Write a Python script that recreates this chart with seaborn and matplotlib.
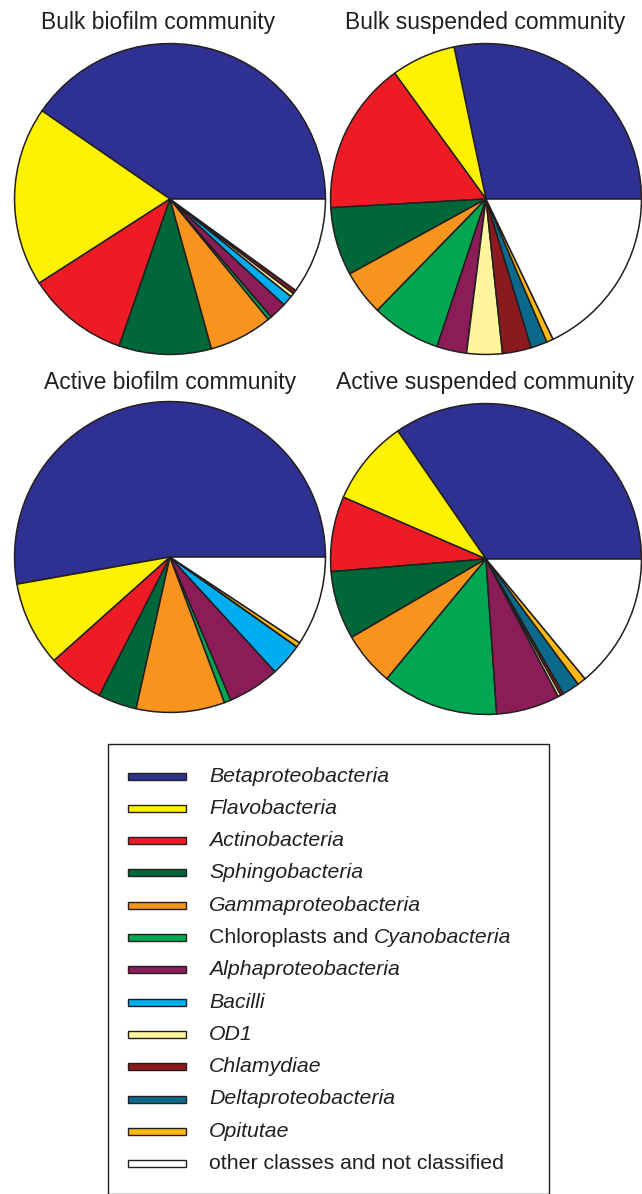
import matplotlib.pyplot as plt
import seaborn as sns
from matplotlib.patches import Rectangle

# === DATA (% of sequences) ===
CLASSES = ['Betaproteobacteria', 'Flavobacteria', 'Actinobacteria', 'Sphingobacteria',
           'Gammaproteobacteria', 'Chloroplasts and Cyanobacteria', 'Alphaproteobacteria',
           'Bacilli', 'OD1', 'Chlamydiae', 'Deltaproteobacteria', 'Opitutae',
           'other classes and not classified']
# (plain part, italic part) for legend text
LEGEND_PARTS = [('', 'Betaproteobacteria'), ('', 'Flavobacteria'), ('', 'Actinobacteria'),
                ('', 'Sphingobacteria'), ('', 'Gammaproteobacteria'),
                ('Chloroplasts and ', 'Cyanobacteria'), ('', 'Alphaproteobacteria'),
                ('', 'Bacilli'), ('', 'OD1'), ('', 'Chlamydiae'), ('', 'Deltaproteobacteria'),
                ('', 'Opitutae'), ('other classes and not classified', '')]
COLORS = ['#2E3192', '#FFF200', '#ED1C24', '#006838', '#F7941D', '#00A651', '#8B1C57',
          '#00AEEF', '#FFF59D', '#8A1A1D', '#0B6A8C', '#FDB913', '#FFFFFF']

bulk_biofilm = [40.4, 18.7, 10.6, 9.6, 6.6, 0.4, 1.8, 1.1, 0.4, 0.4, 0.0, 0.0, 10.0]
bulk_suspended = [28.3, 6.7, 15.9, 7.1, 4.7, 7.2, 3.1, 0.0, 3.7, 3.0, 1.7, 0.7, 17.9]
active_biofilm = [52.8, 8.8, 5.9, 4.0, 9.2, 0.7, 5.4, 3.4, 0.0, 0.0, 0.0, 0.5, 9.3]
active_suspended = [34.6, 8.9, 7.8, 7.1, 5.6, 12.1, 6.6, 0.0, 0.3, 0.3, 1.8, 0.9, 14.0]

TITLES = ['Bulk biofilm community', 'Bulk suspended community',
          'Active biofilm community', 'Active suspended community']
SERIES = [bulk_biofilm, bulk_suspended, active_biofilm, active_suspended]

# === STYLE ===
sns.set_theme(style="white")
plt.rcParams['font.family'] = ['Liberation Sans', 'DejaVu Sans']
palette = sns.color_palette(COLORS)
EDGE = '#231F20'

W, H = 642, 1194
fig = plt.figure(figsize=(W / 100, H / 100), dpi=100)

# pie centres / radius in pixels
centres = [(170, 199), (486, 199), (170, 557), (486, 559)]
R = 157
title_pos = [(158, 22), (485, 22), (170, 382), (485, 382)]

for (cx, cy), (tx, ty), title, vals in zip(centres, title_pos, TITLES, SERIES):
    ax = fig.add_axes([(cx - R) / W, (H - cy - R) / H, 2 * R / W, 2 * R / H])
    ax.pie(vals, colors=palette, startangle=0, counterclock=True, radius=1.0,
           wedgeprops=dict(edgecolor=EDGE, linewidth=1.1))
    ax.set_xlim(-1.01, 1.01)
    ax.set_ylim(-1.01, 1.01)
    ax.set_aspect('equal')
    ax.axis('off')
    fig.text(tx / W, 1 - ty / H, title, ha='center', va='center', fontsize=16.5, color='#231F20')

# === LEGEND (drawn by hand in pixel coords) ===
fig.patches.append(Rectangle((108 / W, 0), (549 - 108) / W, 1 - 744 / H,
                             transform=fig.transFigure, facecolor='none',
                             edgecolor=EDGE, linewidth=1.0))
y0, dy = 776, 32.3
fig.canvas.draw()
renderer = fig.canvas.get_renderer()
for i, (plain, ital) in enumerate(LEGEND_PARTS):
    y = y0 + i * dy
    fig.patches.append(Rectangle((128 / W, 1 - (y + 3.5) / H), 58 / W, 7 / H,
                                 transform=fig.transFigure, facecolor=palette[i],
                                 edgecolor=EDGE, linewidth=1.0))
    x = 209 / W
    if plain:
        t = fig.text(x, 1 - y / H, plain, ha='left', va='center', fontsize=15.3, color='#231F20')
        bb = t.get_window_extent(renderer)
        x = bb.x1 / W
    if ital:
        fig.text(x, 1 - y / H, ital, ha='left', va='center', fontsize=15.3,
                 style='italic', color='#231F20')

fig.savefig('out.png', dpi=100)
